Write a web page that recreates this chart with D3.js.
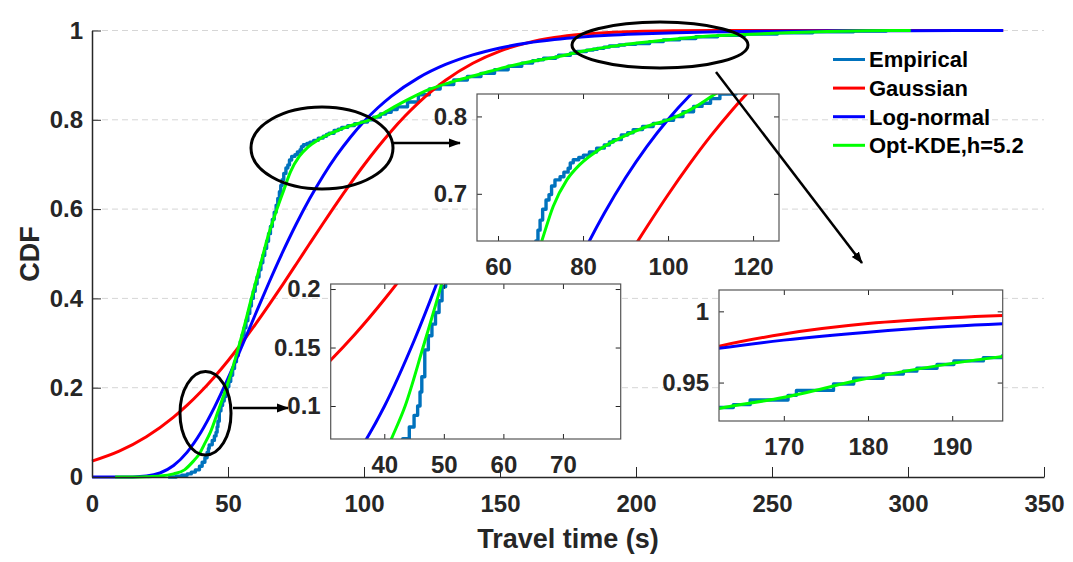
<!DOCTYPE html>
<html>
<head>
<meta charset="utf-8">
<script src="https://cdn.jsdelivr.net/npm/d3@7"></script>
<style>
body { margin: 0; background: #fff; }
svg text { font-family: "Liberation Sans", Arial, Helvetica, sans-serif; font-weight: bold; }
</style>
</head>
<body>
<svg id="chart" width="1073" height="562"></svg>
<script>
// ---- data ----
var xTicks = [0, 50, 100, 150, 200, 250, 300, 350];
var yTicks = [0, 0.2, 0.4, 0.6, 0.8, 1];
var gridY = [0.2, 0.4, 0.6, 0.8, 1];

var empirical = [
  [28,0],[31,0.002],[33,0.004],[35,0.007],[36.5,0.011],[38,0.016],[39.5,0.024],[40.5,0.033],[41.5,0.043],
  [42.3,0.055],[42.8,0.064],[43.1,0.072],[44.2,0.082],[45.0,0.092],[45.6,0.100],[46.0,0.112],[46.3,0.125],
  [46.8,0.148],[47.4,0.160],[48.0,0.170],[48.6,0.180],[49.2,0.190],[49.7,0.202],[50.3,0.214],[51.0,0.228],
  [51.7,0.243],[52.4,0.258],[53.1,0.272],[53.8,0.288],[54.5,0.303],[55.2,0.318],[55.9,0.334],[56.6,0.350],
  [57.3,0.366],[58.0,0.383],[58.6,0.400],[59.3,0.416],[60.0,0.432],[60.7,0.448],[61.4,0.464],[62.1,0.480],
  [62.8,0.496],[63.5,0.512],[64.2,0.528],[64.9,0.545],[65.6,0.561],[66.3,0.577],[67.0,0.593],[67.7,0.609],
  [68.3,0.624],[68.9,0.639],[69.4,0.653],[69.9,0.666],[70.5,0.680],[71.3,0.692],[72.0,0.699],[72.6,0.710],
  [73.4,0.718],[74.6,0.722],[75.5,0.728],[76.5,0.733],[77.0,0.740],[77.7,0.744],[79.0,0.747],[80.1,0.750],
  [81.5,0.754],[83.2,0.759],[85.0,0.763],[86.2,0.767],[87.1,0.770],[89.0,0.776],[90.5,0.779],[91.8,0.783],
  [94.0,0.787],[96.5,0.791],[99.0,0.795],[101.3,0.800],[103.5,0.806],[106.0,0.813],[108.0,0.817],[110.0,0.823],
  [112.2,0.829],[116,0.840],[120,0.856],[124,0.869],[128,0.879],[133,0.889],[138,0.897],[143,0.904],
  [148,0.912],[153,0.920],[158,0.927],[162,0.9325],[164,0.9345],[166,0.9378],[170.5,0.941],[171.5,0.9445],
  [175.9,0.949],[178.3,0.953],[181.8,0.956],[184.2,0.958],[185.8,0.960],[188.2,0.9627],[190.2,0.9652],
  [193.7,0.9675],[196,0.969],[200,0.971],[205,0.975],[210,0.979],[216,0.982],[222,0.986],[230,0.989],
  [240,0.992],[252,0.995],[265,0.997],[280,0.999],[292,1]
];

var gaussian = [
  [0,0.0356],[10,0.0580],[20,0.0902],[30,0.1342],[35,0.1609],[40,0.1910],[45,0.2242],[50,0.2605],
  [55,0.2996],[60,0.3412],[65,0.3848],[70,0.4299],[75,0.4759],[80,0.5223],[85,0.5683],[90,0.6135],
  [95,0.6571],[100,0.6988],[105,0.7380],[110,0.7745],[115,0.8078],[120,0.8379],[125,0.8648],[130,0.8885],
  [140,0.9266],[150,0.9539],[160,0.9723],[170,0.9841],[180,0.9914],[190,0.9955],[200,0.9978],
  [215,0.9993],[230,0.9998],[250,1],[300,1],[335,1]
];

var lognormal = [
  [0,0],[5,0],[10,0],[15,0.0002],[20,0.0020],[25,0.0090],[30,0.0258],[35,0.0558],[40,0.0996],
  [45,0.1558],[50,0.2207],[55,0.2912],[60,0.3634],[65,0.4345],[70,0.5023],[75,0.5654],[80,0.6230],
  [85,0.6748],[90,0.7207],[95,0.7610],[100,0.7961],[105,0.8264],[110,0.8525],[120,0.8939],[130,0.9239],
  [140,0.9455],[150,0.9610],[160,0.9720],[170,0.9798],[180,0.9854],[190,0.9895],[200,0.9923],
  [215,0.9952],[230,0.9970],[250,0.9984],[275,0.9992],[300,0.9996],[335,0.9998]
];

var kde = [
  [8.5,0],[15,0.0001],[20,0.0006],[25,0.002],[30,0.007],[34,0.016],[37.2,0.035],[39.5,0.052],
  [41.2,0.072],[43.5,0.10],[46.5,0.15],[49.6,0.204],[52,0.25],[55,0.315],[58.6,0.40],[62,0.478],
  [65,0.545],[68,0.600],[70.3,0.639],[73,0.684],[76.2,0.718],[79.3,0.738],[83.2,0.755],[88.7,0.772],
  [95,0.787],[101.3,0.798],[106,0.811],[111.1,0.829],[117,0.848],[124,0.868],[133,0.886],[143,0.903],
  [152,0.918],[162.3,0.9318],[169.9,0.9395],[179.8,0.9528],[189.8,0.9633],[196.1,0.9684],[210,0.978],
  [223.5,0.986],[240,0.991],[255,0.995],[270,0.998],[285,0.9995],[301,1]
];

var seriesNames = ["Empirical", "Gaussian", "Log-normal", "Opt-KDE,h=5.2"];
var seriesColors = ["#0072BD", "#FF0000", "#0000FF", "#00FF00"];

// ---- drawing ----
var svg = d3.select("#chart");
var txtColor = "#262626";

var series = [
  {data: empirical, step: true},
  {data: gaussian},
  {data: lognormal},
  {data: kde}
].map(function (s, i) { s.name = seriesNames[i]; s.color = seriesColors[i]; return s; });

var x = d3.scaleLinear().domain([0, 350]).range([92, 1044]);
var y = d3.scaleLinear().domain([0, 1]).range([477, 30.5]);

function drawCurves(g, sx, sy) {
  series.forEach(function (s) {
    var line = d3.line()
      .x(function (d) { return sx(d[0]); })
      .y(function (d) { return sy(d[1]); })
      .curve(s.step ? d3.curveStepAfter : d3.curveMonotoneX);
    g.append("path").datum(s.data)
      .attr("d", line)
      .attr("fill", "none")
      .attr("stroke", s.color)
      .attr("stroke-width", s.step ? 3.4 : 3)
      .attr("stroke-linejoin", "round");
  });
}

function styleAxis(g, size) {
  g.selectAll(".tick line").attr("stroke", txtColor).attr("stroke-width", 1);
  g.selectAll("text").attr("fill", txtColor).style("font-size", size + "px");
}

// grid
svg.append("g").selectAll("line").data(gridY).join("line")
  .attr("x1", 92).attr("x2", 1044)
  .attr("y1", function (d) { return y(d); })
  .attr("y2", function (d) { return y(d); })
  .attr("stroke", "#d6d6d6").attr("stroke-width", 1)
  .attr("stroke-dasharray", "6,4");

drawCurves(svg.append("g"), x, y);

// main axes (box off)
var gx = svg.append("g").attr("transform", "translate(0,477)")
  .call(d3.axisBottom(x).tickValues(xTicks).tickSize(-10).tickSizeOuter(0).tickPadding(18)
    .tickFormat(function (d) { return String(d); }));
gx.select(".domain").attr("stroke", txtColor).attr("stroke-width", 1.5);
styleAxis(gx, 24);

var gy = svg.append("g").attr("transform", "translate(92,0)")
  .call(d3.axisLeft(y).tickValues(yTicks).tickSize(-9).tickSizeOuter(0).tickPadding(9)
    .tickFormat(function (d) { return String(d); }));
gy.select(".domain").attr("stroke", txtColor).attr("stroke-width", 1.5);
styleAxis(gy, 24);

svg.append("text").attr("x", 568).attr("y", 548).attr("text-anchor", "middle")
  .attr("fill", txtColor).style("font-size", "27px").text("Travel time (s)");
svg.append("text").attr("transform", "translate(39,254) rotate(-90)").attr("text-anchor", "middle")
  .attr("fill", txtColor).style("font-size", "27px").text("CDF");

// insets
var insetIdx = 0;
function inset(box, xd, yd, xt, yt) {
  var sx = d3.scaleLinear().domain(xd).range([box[0], box[1]]);
  var sy = d3.scaleLinear().domain(yd).range([box[3], box[2]]);
  var w = box[1] - box[0], h = box[3] - box[2];
  var g = svg.append("g");
  var id = "clip" + (insetIdx++);
  g.append("clipPath").attr("id", id).append("rect")
    .attr("x", box[0]).attr("y", box[2]).attr("width", w).attr("height", h);
  g.append("rect").attr("x", box[0]).attr("y", box[2]).attr("width", w).attr("height", h).attr("fill", "#fff");
  drawCurves(g.append("g").attr("clip-path", "url(#" + id + ")"), sx, sy);

  var fmt = function (d) { return String(d); };
  var b = g.append("g").attr("transform", "translate(0," + box[3] + ")")
    .call(d3.axisBottom(sx).tickValues(xt).tickSize(-5).tickSizeOuter(0).tickPadding(17).tickFormat(fmt));
  var t = g.append("g").attr("transform", "translate(0," + box[2] + ")")
    .call(d3.axisTop(sx).tickValues(xt).tickSize(-5).tickSizeOuter(0).tickFormat(""));
  var l = g.append("g").attr("transform", "translate(" + box[0] + ",0)")
    .call(d3.axisLeft(sy).tickValues(yt).tickSize(-5).tickSizeOuter(0).tickPadding(10).tickFormat(fmt));
  var r = g.append("g").attr("transform", "translate(" + box[1] + ",0)")
    .call(d3.axisRight(sy).tickValues(yt).tickSize(-5).tickSizeOuter(0).tickFormat(""));
  [b, t, l, r].forEach(function (a) { a.select(".domain").remove(); styleAxis(a, 24); });
  g.append("rect").attr("x", box[0]).attr("y", box[2]).attr("width", w).attr("height", h)
    .attr("fill", "none").attr("stroke", "#555").attr("stroke-width", 1.2);
}

inset([477, 779, 94, 241], [55.06, 126.1], [0.639, 0.829], [60, 80, 100, 120], [0.7, 0.8]);
inset([330.7, 620.7, 284, 439], [31, 79.7], [0.0718, 0.2043], [40, 50, 60, 70], [0.1, 0.15, 0.2]);
inset([719, 1002.7, 290, 421], [162.3, 196], [0.923, 1.015], [170, 180, 190], [0.95, 1]);

// annotations: ellipses + arrows
var defs = svg.append("defs");
defs.append("marker").attr("id", "arrow").attr("markerUnits", "userSpaceOnUse")
  .attr("markerWidth", 12).attr("markerHeight", 10).attr("refX", 11).attr("refY", 5)
  .attr("orient", "auto")
  .append("path").attr("d", "M0,0.5 L12,5 L0,9.5 z").attr("fill", "#000");

var ellipses = [[322, 148, 71, 41], [205.5, 413.3, 25.5, 41.7], [660, 45, 88, 23]];
svg.append("g").selectAll("ellipse").data(ellipses).join("ellipse")
  .attr("cx", function (d) { return d[0]; }).attr("cy", function (d) { return d[1]; })
  .attr("rx", function (d) { return d[2]; }).attr("ry", function (d) { return d[3]; })
  .attr("fill", "none").attr("stroke", "#000").attr("stroke-width", 3);

var arrows = [[392, 143, 460, 143], [233, 408, 288, 408], [716, 72, 862, 263]];
svg.append("g").selectAll("line").data(arrows).join("line")
  .attr("x1", function (d) { return d[0]; }).attr("y1", function (d) { return d[1]; })
  .attr("x2", function (d) { return d[2]; }).attr("y2", function (d) { return d[3]; })
  .attr("stroke", "#000").attr("stroke-width", 2.5).attr("marker-end", "url(#arrow)");

// legend
var lg = svg.append("g").attr("transform", "translate(833,59.5)");
series.forEach(function (s, i) {
  var row = lg.append("g").attr("transform", "translate(0," + (i * 28.6) + ")");
  row.append("line").attr("x1", 0).attr("x2", 32).attr("stroke", s.color).attr("stroke-width", 3);
  row.append("text").attr("x", 36).attr("dy", "0.36em").attr("fill", "#000")
    .style("font-size", "22px").text(s.name);
});
</script>
</body>
</html>
